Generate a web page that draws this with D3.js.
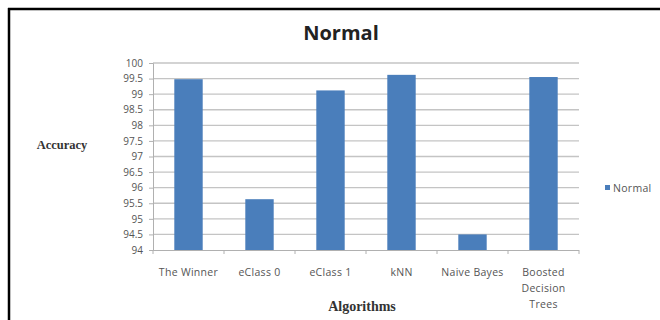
<!DOCTYPE html>
<html><head><meta charset="utf-8">
<script src="https://cdn.jsdelivr.net/npm/d3@7"></script>
<style>body{margin:0;background:#fff}svg{display:block}</style>
</head><body>
<svg id="c" width="660" height="320"></svg>
<script>
const categories = ["The Winner", "eClass 0", "eClass 1", "kNN", "Naive Bayes", "Boosted Decision Trees"];
const categoryLines = [["The Winner"], ["eClass 0"], ["eClass 1"], ["kNN"], ["Naive Bayes"], ["Boosted", "Decision", "Trees"]];
const values = [99.48, 95.63, 99.12, 99.62, 94.5, 99.55];
const yTicks = [94, 94.5, 95, 95.5, 96, 96.5, 97, 97.5, 98, 98.5, 99, 99.5, 100];
const seriesName = "Normal";

const svg = d3.select("#c");
svg.append("rect").attr("width", 660).attr("height", 320).attr("fill", "#fff");
svg.append("line").attr("x1", 8).attr("x2", 660).attr("y1", 9).attr("y2", 9).attr("stroke", "#000").attr("stroke-width", 2.5);
svg.append("line").attr("x1", 9).attr("x2", 9).attr("y1", 8).attr("y2", 320).attr("stroke", "#000").attr("stroke-width", 2.5);

const L = 153, R = 579, T = 63, B = 250;
const x = d3.scaleBand().domain(categories).range([L, R]).paddingInner(0.6).paddingOuter(0.3);
const y = d3.scaleLinear().domain([94, 100]).range([B, T]);
const smallFont = "Open Sans, Liberation Sans, sans-serif";

svg.append("g").selectAll("line").data(yTicks.slice(1)).join("line")
  .attr("x1", L).attr("x2", R).attr("y1", d => y(d)).attr("y2", d => y(d))
  .attr("stroke", "#c4c4c4").attr("stroke-width", 1.3);

const yAxis = d3.axisLeft(y).tickValues(yTicks).tickSize(4).tickFormat(d => String(d));
const gy = svg.append("g").attr("transform", `translate(${L},0)`).call(yAxis);
gy.select(".domain").attr("stroke", "#b0b0b0");
gy.selectAll(".tick line").attr("stroke", "#b0b0b0");
gy.selectAll("text").attr("font-family", smallFont).attr("font-size", 10).attr("fill", "#555").attr("dx", -3);

svg.append("g").selectAll("rect").data(values).join("rect")
  .attr("x", (d, i) => x(categories[i]))
  .attr("width", x.bandwidth())
  .attr("y", d => y(d))
  .attr("height", d => y(94) - y(d))
  .attr("fill", "#4a7ebb");

const step = (R - L) / categories.length;
const gx = svg.append("g");
gx.append("line").attr("x1", L).attr("x2", R).attr("y1", B + 0.5).attr("y2", B + 0.5).attr("stroke", "#b0b0b0");
gx.selectAll("line.t").data(d3.range(categories.length + 1)).join("line").attr("class", "t")
  .attr("x1", i => L + i * step).attr("x2", i => L + i * step)
  .attr("y1", B).attr("y2", B + 4).attr("stroke", "#b0b0b0");
const lab = gx.selectAll("text").data(categories).join("text")
  .attr("x", d => x(d) + x.bandwidth() / 2)
  .attr("y", 276)
  .attr("text-anchor", "middle")
  .attr("font-family", smallFont).attr("font-size", 10.5).attr("letter-spacing", 0.3).attr("fill", "#555");
lab.each(function(d, i) {
  const t = d3.select(this);
  categoryLines[i].forEach((s, k) => t.append("tspan").attr("x", x(d) + x.bandwidth() / 2).attr("dy", k === 0 ? 0 : 16).text(s));
});

svg.append("text").attr("x", 341).attr("y", 40).attr("text-anchor", "middle")
  .attr("font-family", "Open Sans, DejaVu Sans, sans-serif").attr("font-weight", "bold").attr("font-size", 20).attr("fill", "#222").text(seriesName);
svg.append("text").attr("x", 62).attr("y", 149).attr("text-anchor", "middle")
  .attr("font-family", "Liberation Serif, serif").attr("font-weight", "bold").attr("font-size", 12.5).attr("fill", "#333").text("Accuracy");
svg.append("text").attr("x", 362).attr("y", 311).attr("text-anchor", "middle")
  .attr("font-family", "Liberation Serif, serif").attr("font-weight", "bold").attr("font-size", 14).attr("fill", "#333").text("Algorithms");

svg.append("rect").attr("x", 605).attr("y", 185).attr("width", 5).attr("height", 5).attr("fill", "#4a7ebb");
svg.append("text").attr("x", 613).attr("y", 191.5).attr("font-family", smallFont).attr("font-size", 10.5).attr("letter-spacing", 0.3).attr("fill", "#555").text(seriesName);
</script>
</body></html>
